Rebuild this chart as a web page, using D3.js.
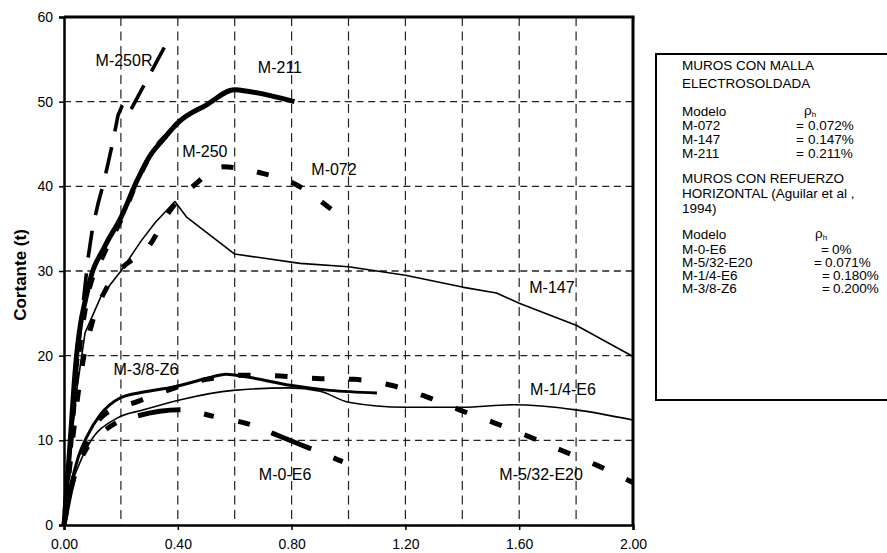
<!DOCTYPE html>
<html>
<head>
<meta charset="utf-8">
<script src="https://cdn.jsdelivr.net/npm/d3@7"></script>
<style>
  html, body { margin: 0; padding: 0; background: #fff; }
  svg { display: block; font-family: Arial, "Liberation Sans", Helvetica, sans-serif; }
</style>
</head>
<body>
<svg id="chart" width="887" height="553"></svg>
<script>
// ---------------- data ----------------
const xTicks = [0, 0.4, 0.8, 1.2, 1.6, 2.0];
const xGrid = [0.2, 0.4, 0.6, 0.8, 1.0, 1.2, 1.4, 1.6, 1.8];
const yTicks = [0, 10, 20, 30, 40, 50, 60];
const yGrid = [10, 20, 30, 40, 50];

const m250R = [[0,0],[0.03,13],[0.06,24],[0.085,31.6],[0.1,35],[0.12,38],[0.14,40.5],[0.17,45],[0.19,48.4],[0.203,49.4],[0.225,48.4],[0.29,52.5],[0.362,57]];
const m211 = [[0,0],[0.02,9],[0.04,18.5],[0.085,28],[0.145,33],[0.2,36.3],[0.257,40.7],[0.3,43.5],[0.35,45.6],[0.4,47.5],[0.5,49.6],[0.6,51.4],[0.65,51.2],[0.81,50]];
const m250 = [[0,0],[0.02,8],[0.045,18],[0.08,26.5],[0.14,32],[0.2,36],[0.26,40.8],[0.31,44],[0.37,46.3]];
const m072 = [[0,0],[0.03,10],[0.06,18],[0.1,24],[0.15,28],[0.2,30.2],[0.3,33],[0.37,37],[0.46,40.2],[0.56,42.3],[0.69,41.6],[0.81,40.3],[0.95,37]];
const m147 = [[0,0],[0.02,8],[0.045,16],[0.074,22.7],[0.13,27],[0.2,30],[0.27,33.5],[0.32,35.7],[0.39,38.2],[0.43,36.4],[0.6,32],[0.83,30.9],[1.0,30.5],[1.2,29.5],[1.4,28.1],[1.52,27.4],[1.6,26.2],[1.8,23.6],[2.0,19.9]];
const m38Z6 = [[0,0],[0.02,4],[0.05,8],[0.08,10.4],[0.127,13],[0.197,15],[0.28,15.7],[0.385,16.3],[0.5,17.3],[0.57,17.8],[0.64,17.5],[0.795,16.5],[0.935,15.9],[1.1,15.6]];
const m14E6 = [[0,0],[0.02,4],[0.045,6.5],[0.09,9.7],[0.185,12.6],[0.28,13.6],[0.41,14.8],[0.595,15.9],[0.79,16.2],[0.9,15.8],[1.0,14.5],[1.2,13.9],[1.4,13.9],[1.58,14.2],[1.8,13.6],[2.0,12.4]];
const m532E20 = [[0,0],[0.03,5],[0.07,9],[0.14,13],[0.26,14.6],[0.39,16.2],[0.5,17.2],[0.64,17.7],[0.76,17.6],[0.89,17.3],[1.02,17.2],[1.15,16.5],[1.27,15.2],[1.39,13.6],[1.51,12.1],[1.63,10.5],[1.75,8.8],[1.87,7.1],[2.0,5.0]];
const m0E6 = [[0,0],[0.03,5],[0.07,8.5],[0.12,10.5],[0.18,12],[0.26,12.9],[0.41,13.6],[0.53,12.8],[0.66,11.8],[0.75,10.6],[0.875,8.9],[1.0,7.2]];

const curveLabels = [
  {text: "M-250R", x: 0.211, y: 54.2},
  {text: "M-211", x: 0.759, y: 53.4},
  {text: "M-250", x: 0.495, y: 43.5},
  {text: "M-072", x: 0.949, y: 41.3},
  {text: "M-147", x: 1.715, y: 27.4},
  {text: "M-1/4-E6", x: 1.754, y: 15.4},
  {text: "M-5/32-E20", x: 1.677, y: 5.3},
  {text: "M-0-E6", x: 0.777, y: 5.3},
  {text: "M-3/8-Z6", x: 0.288, y: 17.7}
];

const legendLines1 = ["MUROS CON MALLA", "ELECTROSOLDADA"];
const legendRows1 = [["M-072", "=", "0.072%"], ["M-147", "=", "0.147%"], ["M-211", "=", "0.211%"]];
const legendLines2 = ["MUROS CON REFUERZO", "HORIZONTAL (Aguilar et al ,", "1994)"];
const legendRows2 = [["M-0-E6", "=", "0%"], ["M-5/32-E20", "=", "0.071%"], ["M-1/4-E6", "=", "0.180%"], ["M-3/8-Z6", "=", "0.200%"]];

// ---------------- layout ----------------
const svg = d3.select("#chart");
const L = 64, R = 633, T = 17, B = 525;
const x = d3.scaleLinear().domain([0, 2]).range([L, R]);
const y = d3.scaleLinear().domain([0, 60]).range([B, T]);

// grid
const g = svg.append("g");
g.selectAll(".vg").data(xGrid).enter().append("line")
  .attr("x1", d => x(d)).attr("x2", d => x(d)).attr("y1", T).attr("y2", B)
  .attr("stroke", "#222").attr("stroke-width", 1.2).attr("stroke-dasharray", "9,5.5");
g.selectAll(".hg").data(yGrid).enter().append("line")
  .attr("x1", L).attr("x2", R).attr("y1", d => y(d)).attr("y2", d => y(d))
  .attr("stroke", "#222").attr("stroke-width", 1.3).attr("stroke-dasharray", "7,4.7");

// series
const lineMono = d3.line().x(d => x(d[0])).y(d => y(d[1])).curve(d3.curveMonotoneX);
const lineLin = d3.line().x(d => x(d[0])).y(d => y(d[1])).curve(d3.curveLinear);
const series = [
  {data: m250R, w: 3.6, dash: "27,16", gen: lineLin, alignX: 0.085},
  {data: m0E6, w: 5, dash: "43,24,10,25,12,23", gen: lineMono, alignX: 0.26},
  {data: m532E20, w: 5, dash: "12.5,24.5", gen: lineMono, alignX: 1.13},
  {data: m072, w: 5, dash: "12,24", gen: lineMono, alignX: 0.45},
  {data: m250, w: 5, dash: "12,20", gen: lineMono, alignX: 0.33},
  {data: m147, w: 1.6, dash: null, gen: lineLin},
  {data: m14E6, w: 1.6, dash: null, gen: lineMono},
  {data: m38Z6, w: 3, dash: null, gen: lineMono},
  {data: m211, w: 5, dash: null, gen: lineMono}
];
function lengthAtX(node, xt) {
  const px = x(xt);
  let lo = 0, hi = node.getTotalLength();
  for (let i = 0; i < 40; i++) {
    const mid = (lo + hi) / 2;
    if (node.getPointAtLength(mid).x < px) lo = mid; else hi = mid;
  }
  return lo;
}
svg.append("g").selectAll("path").data(series).enter().append("path")
  .attr("d", d => d.gen(d.data))
  .attr("fill", "none").attr("stroke", "#000")
  .attr("stroke-width", d => d.w)
  .attr("stroke-dasharray", d => d.dash)
  .attr("stroke-linejoin", "round")
  .each(function(d) {
    if (d.dash && d.alignX !== undefined) {
      d3.select(this).attr("stroke-dashoffset", -lengthAtX(this, d.alignX));
    }
  });

// frame: top and right thick borders
svg.append("line").attr("x1", L).attr("x2", R + 1.5).attr("y1", T).attr("y2", T)
  .attr("stroke", "#000").attr("stroke-width", 3);
svg.append("line").attr("x1", R).attr("x2", R).attr("y1", T).attr("y2", B)
  .attr("stroke", "#000").attr("stroke-width", 3);

// axes
const yAxis = svg.append("g").attr("transform", `translate(${L},0)`)
  .call(d3.axisLeft(y).tickValues(yTicks).tickSize(5).tickPadding(6).tickFormat(d3.format("d")));
const xAxis = svg.append("g").attr("transform", `translate(0,${B})`)
  .call(d3.axisBottom(x).tickValues(xTicks).tickSize(5).tickPadding(9).tickFormat(d3.format(".2f")));
[yAxis, xAxis].forEach(a => {
  a.select(".domain").attr("stroke", "#000").attr("stroke-width", 2.5);
  a.selectAll(".tick line").attr("stroke", "#000").attr("stroke-width", 1.5);
  a.selectAll(".tick text").attr("fill", "#000").attr("font-size", 14)
    .attr("font-family", "Arial, 'Liberation Sans', sans-serif");
});

// y axis title
svg.append("text").attr("transform", "translate(26,275) rotate(-90)")
  .attr("text-anchor", "middle").attr("font-size", 17).attr("font-weight", "bold")
  .text("Cortante (t)");

// curve labels
svg.append("g").selectAll("text").data(curveLabels).enter().append("text")
  .attr("x", d => x(d.x)).attr("y", d => y(d.y))
  .attr("text-anchor", "middle").attr("font-size", 16)
  .text(d => d.text);

// legend box
const lg = svg.append("g");
lg.append("rect").attr("x", 656).attr("y", 54).attr("width", 250).attr("height", 346)
  .attr("fill", "#fff").attr("stroke", "#000").attr("stroke-width", 2);
const fs = 13.5;
function tx(t, px, py, anchor) {
  return lg.append("text").attr("x", px).attr("y", py).attr("font-size", fs)
    .attr("text-anchor", anchor || "start").text(t);
}
legendLines1.forEach((t, i) => tx(t, 682, 70 + i * 18));
tx("Modelo", 682, 115.5);
const rho1 = tx("ρ", 804, 114.5); rho1.append("tspan").attr("font-size", 8).attr("dy", 2).text("h");
legendRows1.forEach((r, i) => {
  tx(r[0], 682, 130 + i * 14);
  tx(r[1], 800, 130 + i * 14, "middle");
  tx(r[2], 808, 130 + i * 14);
});
legendLines2.forEach((t, i) => tx(t, 682, 183 + i * 15));
tx("Modelo", 682, 238.5);
const rho2 = tx("ρ", 815, 237.5); rho2.append("tspan").attr("font-size", 8).attr("dy", 2).text("h");
const eqX2 = [825, 818, 826, 826];
const valX2 = [832, 825, 833, 833];
legendRows2.forEach((r, i) => {
  tx(r[0], 682, 253.5 + i * 13.3);
  tx(r[1], eqX2[i], 253.5 + i * 13.3, "middle");
  tx(r[2], valX2[i], 253.5 + i * 13.3);
});
</script>
</body>
</html>
